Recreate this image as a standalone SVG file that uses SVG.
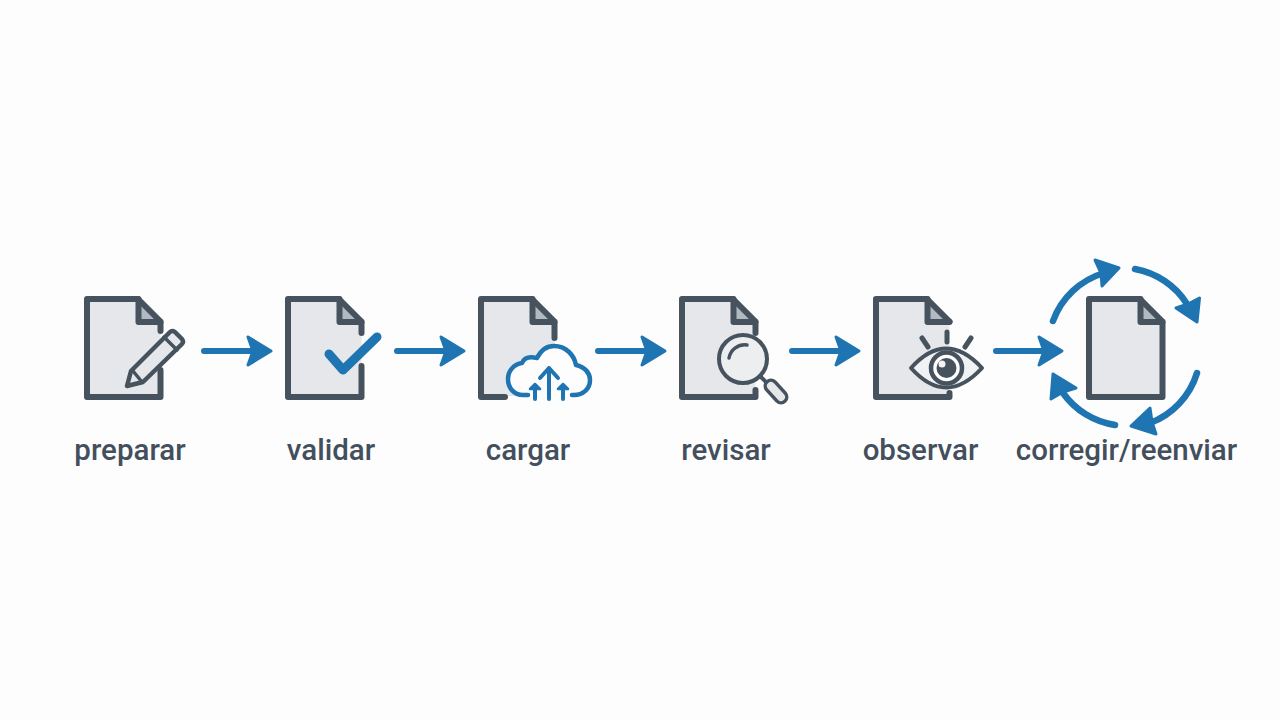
<svg xmlns="http://www.w3.org/2000/svg" width="1280" height="720" viewBox="0 0 1280 720">
<style>
.lbl{font-family:Roboto,"Liberation Sans",sans-serif;font-weight:500;font-size:29.500px;fill:#434f5c;text-anchor:middle}
.dk{stroke:#46535f;stroke-linecap:round;stroke-linejoin:round}
.edge{stroke:#46535f;stroke-width:6;stroke-linecap:round;stroke-linejoin:round;fill:none}
.bl{stroke:#1f74b2;stroke-linecap:round;stroke-linejoin:round;fill:none}
.hd{fill:#1f74b2;stroke:#1f74b2;stroke-width:3;stroke-linejoin:round}
</style>
<defs>
<g id="docfill">
<path d="M87 299H138L160.500 321.500V397H87Z" fill="#e5e7ea"/>
<path d="M138.500 299V322H160.500Z" fill="#b2bac1"/>
<path class="edge" d="M138.500 299V322H160.500"/>
</g>
</defs>
<rect width="1280" height="720" fill="#fdfdfd"/>
<g id="connectors">
<g class="bl" stroke-width="6">
<path d="M204 351H256"/><path d="M397 351H449"/><path d="M598 351H650"/><path d="M792 351H845"/><path d="M996 351H1047"/>
</g>
<path class="hd" d="M248 337L271 351L248 365L253 351Z"/>
<path class="hd" d="M441 337L464 351L441 365L446 351Z"/>
<path class="hd" d="M642 337L665 351L642 365L647 351Z"/>
<path class="hd" d="M836 337L859 351L836 365L841 351Z"/>
<path class="hd" d="M1039 337L1062 351L1039 365L1044 351Z"/>
</g>
<g id="node-preparar">
<use href="#docfill"/>
<path class="edge" d="M160.500 331V321.500L138 299H87V397H160.500V370"/>
<path class="dk" fill="#e5e7ea" stroke-width="4.500" d="M127 386L131 371L170 332Q172 330 175 332L182 339Q184 342 182 344L143 382Z"/>
<path class="dk" fill="none" stroke-width="3.500" d="M133 371L142 382M164 337L177 350"/>
<text class="lbl" x="130" y="460">preparar</text>
</g>
<g id="node-validar">
<use href="#docfill" x="201"/>
<path class="edge" d="M361.500 333V321.500L339 299H288V397H361.500V366"/>
<path class="bl" stroke-width="9" d="M329 354L343 370L377 337"/>
<text class="lbl" x="331" y="460">validar</text>
</g>
<g id="node-cargar">
<use href="#docfill" x="394"/>
<path class="edge" d="M554.500 338V321.500L532 299H481V397H505"/>
<path fill="#fdfdfd" stroke="#fdfdfd" stroke-width="3" d="M528 395H523C514 395 508 388 508 379C508 371 514 364 522 363C524 358 529 356 537 358C541 350 547 346 554 346C566 346 574 355 576 365C585 367 590 373 590 380C590 389 583 395 574 395Z"/>
<rect x="508" y="396" width="60" height="6" fill="#fdfdfd"/>
<path class="bl" stroke-width="4.500" d="M528 395H523C514 395 508 388 508 379C508 371 514 364 522 363C524 358 529 356 537 358C541 350 547 346 554 346C566 346 574 355 576 365C585 367 590 373 590 380C590 389 583 395 574 395H572"/>
<path class="bl" stroke-width="4" d="M549 399V368M540 378L549 368L558 378M535 399V386M563 399V386"/>
<path class="bl" fill="#1f74b2" stroke-width="2.500" d="M530 389L535 384L540 389ZM558 389L563 384L568 389Z"/>
<text class="lbl" x="528" y="460">cargar</text>
</g>
<g id="node-revisar">
<use href="#docfill" x="595"/>
<path class="edge" d="M755.500 333V321.500L733 299H682V397H755.500V390"/>
<circle cx="743" cy="359" r="24" fill="#eceef0" stroke="#46535f" stroke-width="4"/>
<path class="dk" fill="none" stroke-width="3.500" d="M729 358A16 16 0 0 1 747 345"/>
<path class="dk" fill="none" stroke-width="4" d="M760 376L768 384"/>
<path stroke="#46535f" stroke-width="15" stroke-linecap="round" d="M771 386L781 397"/>
<path stroke="#e5e7ea" stroke-width="8" stroke-linecap="round" d="M771 386L781 397"/>
<text class="lbl" x="726" y="460">revisar</text>
</g>
<g id="node-observar">
<use href="#docfill" x="789"/>
<path class="edge" d="M949.500 321.500L927 299H876V397H949.500V393"/>
<path class="dk" fill="#f1f2f3" stroke-width="4" d="M911 368Q946 329 982 368Q946 407 911 368Z"/>
<circle cx="946.500" cy="368" r="15.500" fill="#fff" stroke="#46535f" stroke-width="4.500"/>
<circle cx="946.500" cy="368" r="10" fill="#46535f"/>
<circle cx="942" cy="364" r="3.500" fill="#f1f2f3"/>
<path class="dk" fill="none" stroke-width="5" d="M922 338L928 347M947 332V342M971 338L965 347"/>
<text class="lbl" x="920.500" y="460">observar</text>
</g>
<g id="node-corregir-reenviar">
<use href="#docfill" x="1002"/>
<path class="edge" d="M1162.500 321.500L1140 299H1089V397H1162.500Z"/>
<g class="bl" stroke-width="6.500">
<path d="M1053 321A78 78 0 0 1 1104 273"/>
<path d="M1135 269A78 78 0 0 1 1187 304"/>
<path d="M1197 373A78 78 0 0 1 1150 423"/>
<path d="M1115 425A78 78 0 0 1 1063 393"/>
</g>
<path class="hd" d="M1095 260L1119 268L1102 286L1101 273Z"/>
<path class="hd" d="M1199.500 298L1197 322L1176 308L1188 304Z"/>
<path class="hd" d="M1156 434L1131 426L1150 408L1152 422Z"/>
<path class="hd" d="M1053 374L1076 388L1063 392L1051 399Z"/>
<text class="lbl" x="1126.500" y="460">corregir/reenviar</text>
</g>
</svg>
